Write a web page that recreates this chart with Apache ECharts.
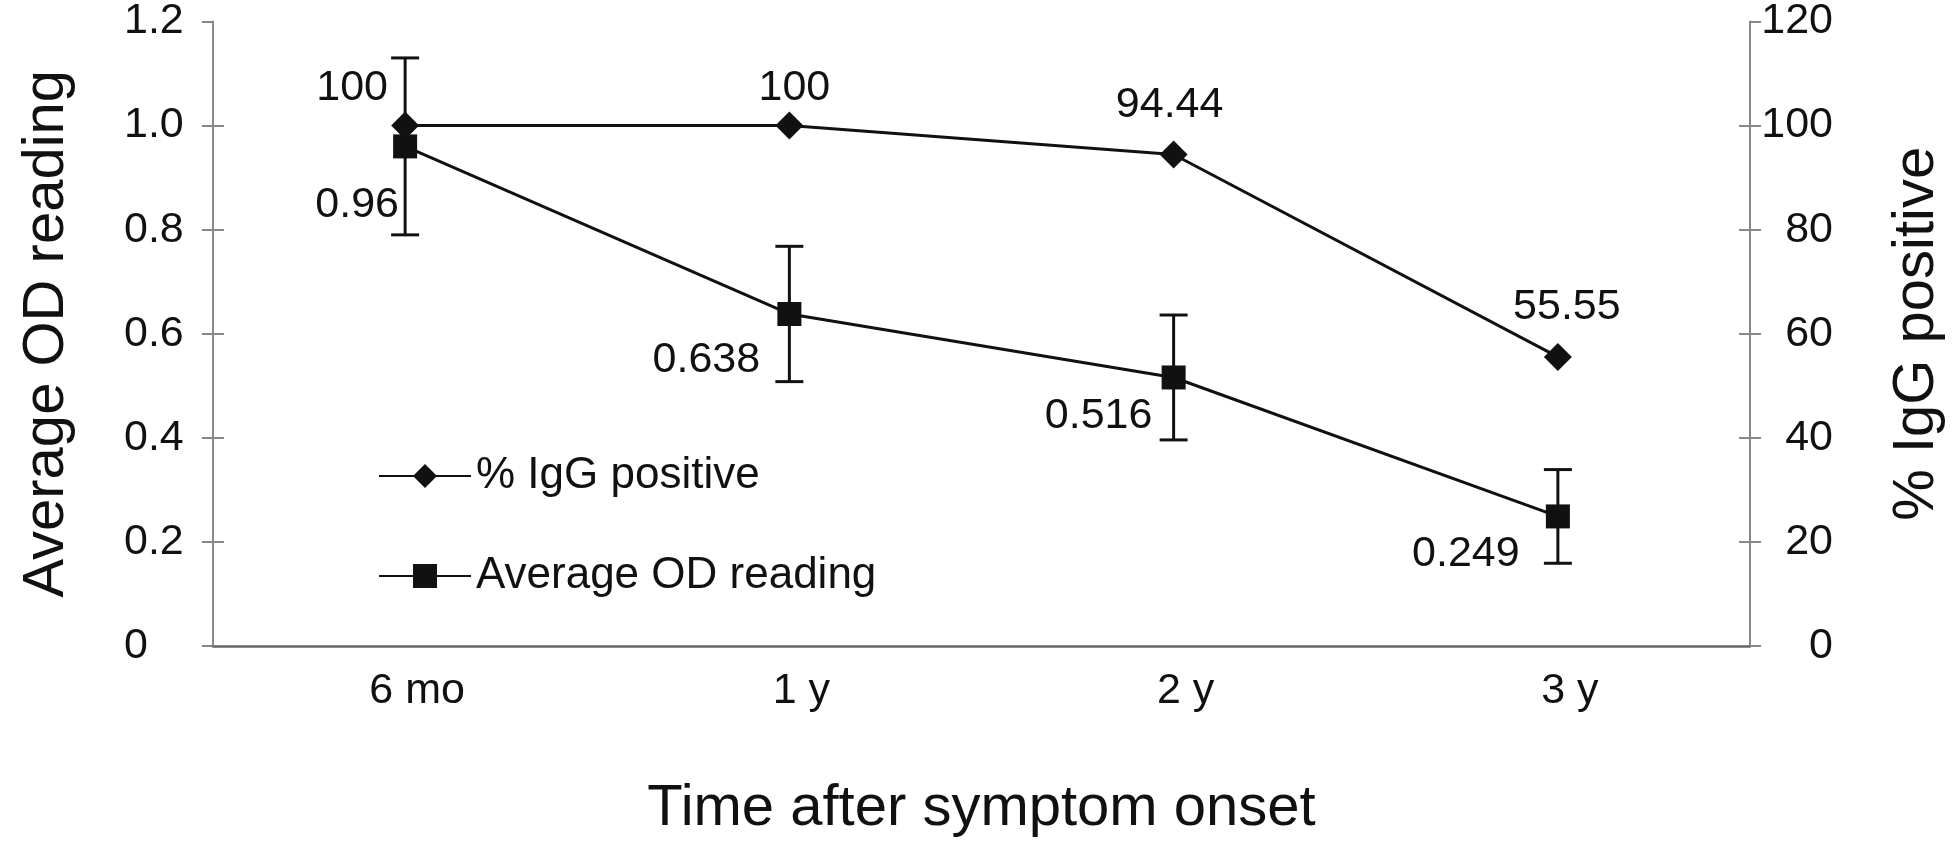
<!DOCTYPE html>
<html>
<head>
<meta charset="utf-8">
<script src="https://cdn.jsdelivr.net/npm/echarts@6/dist/echarts.min.js"></script>
<style>
  html, body { margin: 0; padding: 0; background: #fff; }
  #chart { width: 1957px; height: 843px; }
</style>
</head>
<body>
<div id="chart"></div>
<script>
// ---- data ----
const categories = ['6 mo', '1 y', '2 y', '3 y'];
const iggPositive = [100, 100, 94.44, 55.55];
const odReading = [0.96, 0.638, 0.516, 0.249];
const odError = [0.17, 0.13, 0.12, 0.09];
const leftTicks = { min: 0, max: 1.2, interval: 0.2 };
const rightTicks = { min: 0, max: 120, interval: 20 };

// ---- style / layout (not data) ----
const FONT = "'Liberation Sans', Arial, sans-serif";
const INK = '#111';
const iggLabelOffsets = [[-53, -37], [5, -37], [-4, -49], [9, -50]];
const odLabelOffsets = [[-48, 59], [-83, 46], [-75, 39], [-92, 38]];

const chart = echarts.init(document.getElementById('chart'), null, { renderer: 'canvas' });

const leftFmt = v => (v === 0 ? '0' : v.toFixed(1));

const option = {
  backgroundColor: '#fff',
  animation: false,
  textStyle: { fontFamily: FONT, color: INK },
  grid: { left: 213, right: 207, top: 20, bottom: 195, containLabel: false },
  legend: {
    orient: 'vertical',
    left: 373,
    top: 446,
    itemWidth: 92,
    itemHeight: 30,
    itemGap: 50,
    data: ['% IgG positive', 'Average OD reading'],
    textStyle: { fontFamily: FONT, fontSize: 44, color: INK, lineHeight: 50 }
  },
  xAxis: {
    type: 'category',
    data: categories,
    boundaryGap: true,
    axisLine: { lineStyle: { color: '#666', width: 2.5 } },
    axisTick: { show: false },
    axisLabel: { fontSize: 43, color: INK, fontFamily: FONT, margin: 24, padding: [0, 0, 0, 24] },
    name: 'Time after symptom onset',
    nameLocation: 'middle',
    nameGap: 134,
    nameTextStyle: { fontSize: 58, color: INK, fontFamily: FONT }
  },
  yAxis: [
    {
      type: 'value', position: 'left',
      min: leftTicks.min, max: leftTicks.max, interval: leftTicks.interval,
      axisLine: { show: true, lineStyle: { color: '#888', width: 2 } },
      axisTick: { show: true, length: 11, lineStyle: { color: '#888', width: 2 } },
      splitLine: { show: false },
      axisLabel: { fontSize: 43, color: INK, fontFamily: FONT, align: 'left', margin: 89, padding: [8, 0, 0, 0], formatter: leftFmt },
      name: 'Average OD reading',
      nameLocation: 'middle',
      nameRotate: 90,
      nameGap: 137,
      nameTextStyle: { fontSize: 58, color: INK, fontFamily: FONT }
    },
    {
      type: 'value', position: 'right',
      min: rightTicks.min, max: rightTicks.max, interval: rightTicks.interval,
      axisLine: { show: true, lineStyle: { color: '#888', width: 2 } },
      axisTick: { show: true, length: 11, lineStyle: { color: '#888', width: 2 } },
      splitLine: { show: false },
      axisLabel: { fontSize: 43, color: INK, fontFamily: FONT, align: 'right', margin: 83, padding: [8, 0, 0, 0] },
      name: '% IgG positive',
      nameLocation: 'middle',
      nameRotate: 90,
      nameGap: 138,
      nameTextStyle: { fontSize: 58, color: INK, fontFamily: FONT }
    },
    {
      type: 'value', position: 'left',
      min: leftTicks.min, max: leftTicks.max, interval: leftTicks.interval,
      axisLine: { show: false },
      axisTick: { show: true, inside: true, length: 11, lineStyle: { color: '#888', width: 2 },
                  customValues: [0.2, 0.4, 0.6, 0.8, 1.0] },
      axisLabel: { show: false },
      splitLine: { show: false }
    },
    {
      type: 'value', position: 'right',
      min: rightTicks.min, max: rightTicks.max, interval: rightTicks.interval,
      axisLine: { show: false },
      axisTick: { show: true, inside: true, length: 11, lineStyle: { color: '#888', width: 2 },
                  customValues: [20, 40, 60, 80, 100] },
      axisLabel: { show: false },
      splitLine: { show: false }
    }
  ],
  series: [
    {
      name: 'errorbars',
      type: 'custom',
      yAxisIndex: 0,
      z: 1,
      silent: true,
      data: categories.map((c, i) => [i, odReading[i] - odError[i], odReading[i] + odError[i]]),
      renderItem: function (params, api) {
        const x = api.value(0);
        const lo = api.coord([x, api.value(1)]);
        const hi = api.coord([x, api.value(2)]);
        const w = 14;
        const st = { stroke: INK, lineWidth: 3 };
        return {
          type: 'group',
          children: [
            { type: 'line', shape: { x1: lo[0], y1: lo[1], x2: hi[0], y2: hi[1] }, style: st },
            { type: 'line', shape: { x1: lo[0] - w, y1: lo[1], x2: lo[0] + w, y2: lo[1] }, style: st },
            { type: 'line', shape: { x1: hi[0] - w, y1: hi[1], x2: hi[0] + w, y2: hi[1] }, style: st }
          ]
        };
      }
    },
    {
      name: '% IgG positive',
      type: 'line',
      yAxisIndex: 1,
      z: 3,
      symbol: 'diamond',
      symbolSize: 28,
      color: INK,
      lineStyle: { color: INK, width: 3 },
      itemStyle: { color: INK },
      data: iggPositive.map((v, i) => ({
        value: v,
        label: { offset: iggLabelOffsets[i] }
      })),
      label: {
        show: true, position: 'inside', fontSize: 43, color: INK, fontFamily: FONT,
        formatter: p => String(p.value)
      }
    },
    {
      name: 'Average OD reading',
      type: 'line',
      yAxisIndex: 0,
      z: 3,
      symbol: 'rect',
      symbolSize: 24,
      color: INK,
      lineStyle: { color: INK, width: 3 },
      itemStyle: { color: INK },
      data: odReading.map((v, i) => ({
        value: v,
        label: { offset: odLabelOffsets[i] }
      })),
      label: {
        show: true, position: 'inside', fontSize: 43, color: INK, fontFamily: FONT,
        formatter: p => String(p.value)
      }
    }
  ]
};

chart.setOption(option);
</script>
</body>
</html>
